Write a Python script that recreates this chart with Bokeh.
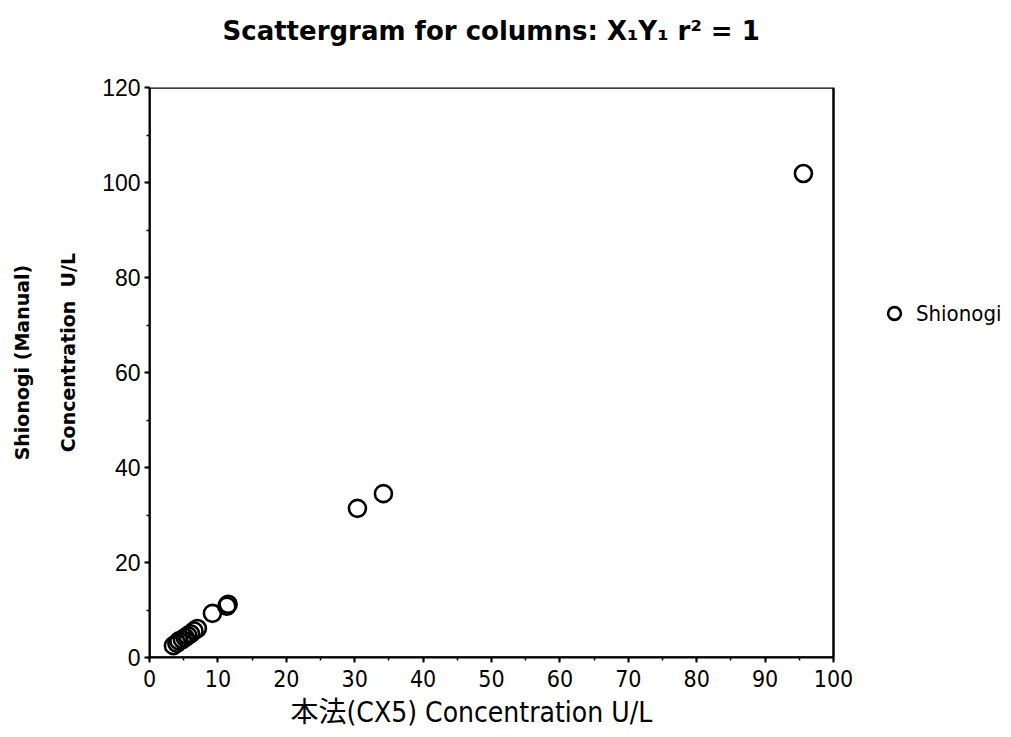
from bokeh.plotting import figure
from bokeh.models import Range1d, LinearAxis, Legend, LegendItem, SingleIntervalTicker, FixedTicker, Title
from bokeh.embed import file_html
from bokeh.resources import INLINE

x_vals = [3.5, 4.0, 4.3, 4.8, 5.2, 5.6, 6.0, 6.5, 7.0, 9.2, 11.3, 11.5, 30.4, 34.2, 95.6]
y_vals = [2.5, 3.0, 3.5, 3.8, 4.2, 4.6, 5.0, 5.6, 6.1, 9.3, 10.8, 11.2, 31.4, 34.5, 101.9]
series_name = "Shionogi"
title_text = "Scattergram for columns: X\u2081Y\u2081  r\u00b2 = 1"
x_label = "本法(CX5) Concentration U/L"
y_label_1 = "Shionogi (Manual)"
y_label_2 = "Concentration\u00a0\u00a0U/L"
x_min, x_max = 0, 100
y_min, y_max = 0, 120

NB = "\u00a0"
FL, FR, FT, FB = 149, 1005, 87, 657          # frame edges in px
BOX_R = 833                                   # px where x = 100
x_view_end = x_max * (FR - FL) / (BOX_R - FL)  # extend frame so legend fits inside

p = figure(width=1011, height=737, output_backend="svg", toolbar_location=None,
           x_range=Range1d(x_min, x_view_end), y_range=Range1d(y_min, y_max),
           min_border_left=FL, min_border_right=1011 - FR, min_border_top=FT,
           min_border_bottom=737 - FB)

p.grid.visible = False
p.outline_line_color = None
p.background_fill_color = "white"
p.border_fill_color = "white"

p.title.text = title_text
p.title.align = "left"
p.title.offset = 73
p.title.text_color = "black"
p.title.text_font = "DejaVu Sans"
p.title.text_font_style = "bold"
p.title.text_font_size = "26px"
p.add_layout(Title(text=NB, text_font_size="22px"), "above")

# plot box
p.quad(left=[x_min], right=[x_max], bottom=[y_min], top=[y_max],
       fill_color=None, line_color="black", line_width=2.5)

r = p.scatter(x_vals, y_vals, marker="circle", size=17, fill_color=None,
              line_color="black", line_width=2.6)

p.xaxis.ticker = SingleIntervalTicker(interval=10, num_minor_ticks=2)
p.xaxis.bounds = (x_min, x_max)
p.yaxis.ticker = SingleIntervalTicker(interval=20, num_minor_ticks=2)
for ax in (p.xaxis[0], p.yaxis[0]):
    ax.axis_line_width = 2
    ax.major_tick_line_width = 2
    ax.minor_tick_line_width = 1.5
    ax.major_tick_out = 5
    ax.major_tick_in = 0
    ax.minor_tick_out = 3
    ax.minor_tick_in = 0
    ax.major_label_text_color = "black"
    ax.axis_label_text_color = "black"

p.xaxis.major_label_text_font = "DejaVu Sans Condensed"
p.xaxis.major_label_text_font_size = "23px"
p.xaxis.major_label_standoff = 7

p.add_layout(Title(text=x_label, align="left", offset=141, standoff=8, text_color="black",
                   text_font="DejaVu Sans Condensed, Noto Sans CJK JP",
                   text_font_style="normal", text_font_size="28px"), "below")

p.yaxis.major_label_text_font = "Liberation Sans"
p.yaxis.major_label_text_font_size = "23px"
p.yaxis.major_label_standoff = 4
p.yaxis.axis_label = NB * 6 + y_label_2
p.yaxis.axis_label_text_font = "DejaVu Sans"
p.yaxis.axis_label_text_font_style = "bold"
p.yaxis.axis_label_text_font_size = "19px"
p.yaxis.axis_label_standoff = 20

ax2 = LinearAxis(axis_label=NB * 3 + y_label_1, ticker=FixedTicker(ticks=[]),
                 axis_line_color=None, major_tick_line_color=None, minor_tick_line_color=None,
                 axis_label_text_font="DejaVu Sans", axis_label_text_font_style="bold",
                 axis_label_text_font_size="19px", axis_label_standoff=22,
                 axis_label_text_color="black")
p.add_layout(ax2, "left")

legend = Legend(items=[LegendItem(label=series_name, renderers=[r])],
                location=(729, 328), border_line_color=None, background_fill_alpha=0,
                label_text_font="DejaVu Sans Condensed", label_text_font_size="22px",
                label_text_color="black",
                glyph_width=32, glyph_height=32, label_standoff=6, padding=0, margin=0)
p.add_layout(legend, "center")

open("out.html", "w").write(file_html(p, INLINE))
